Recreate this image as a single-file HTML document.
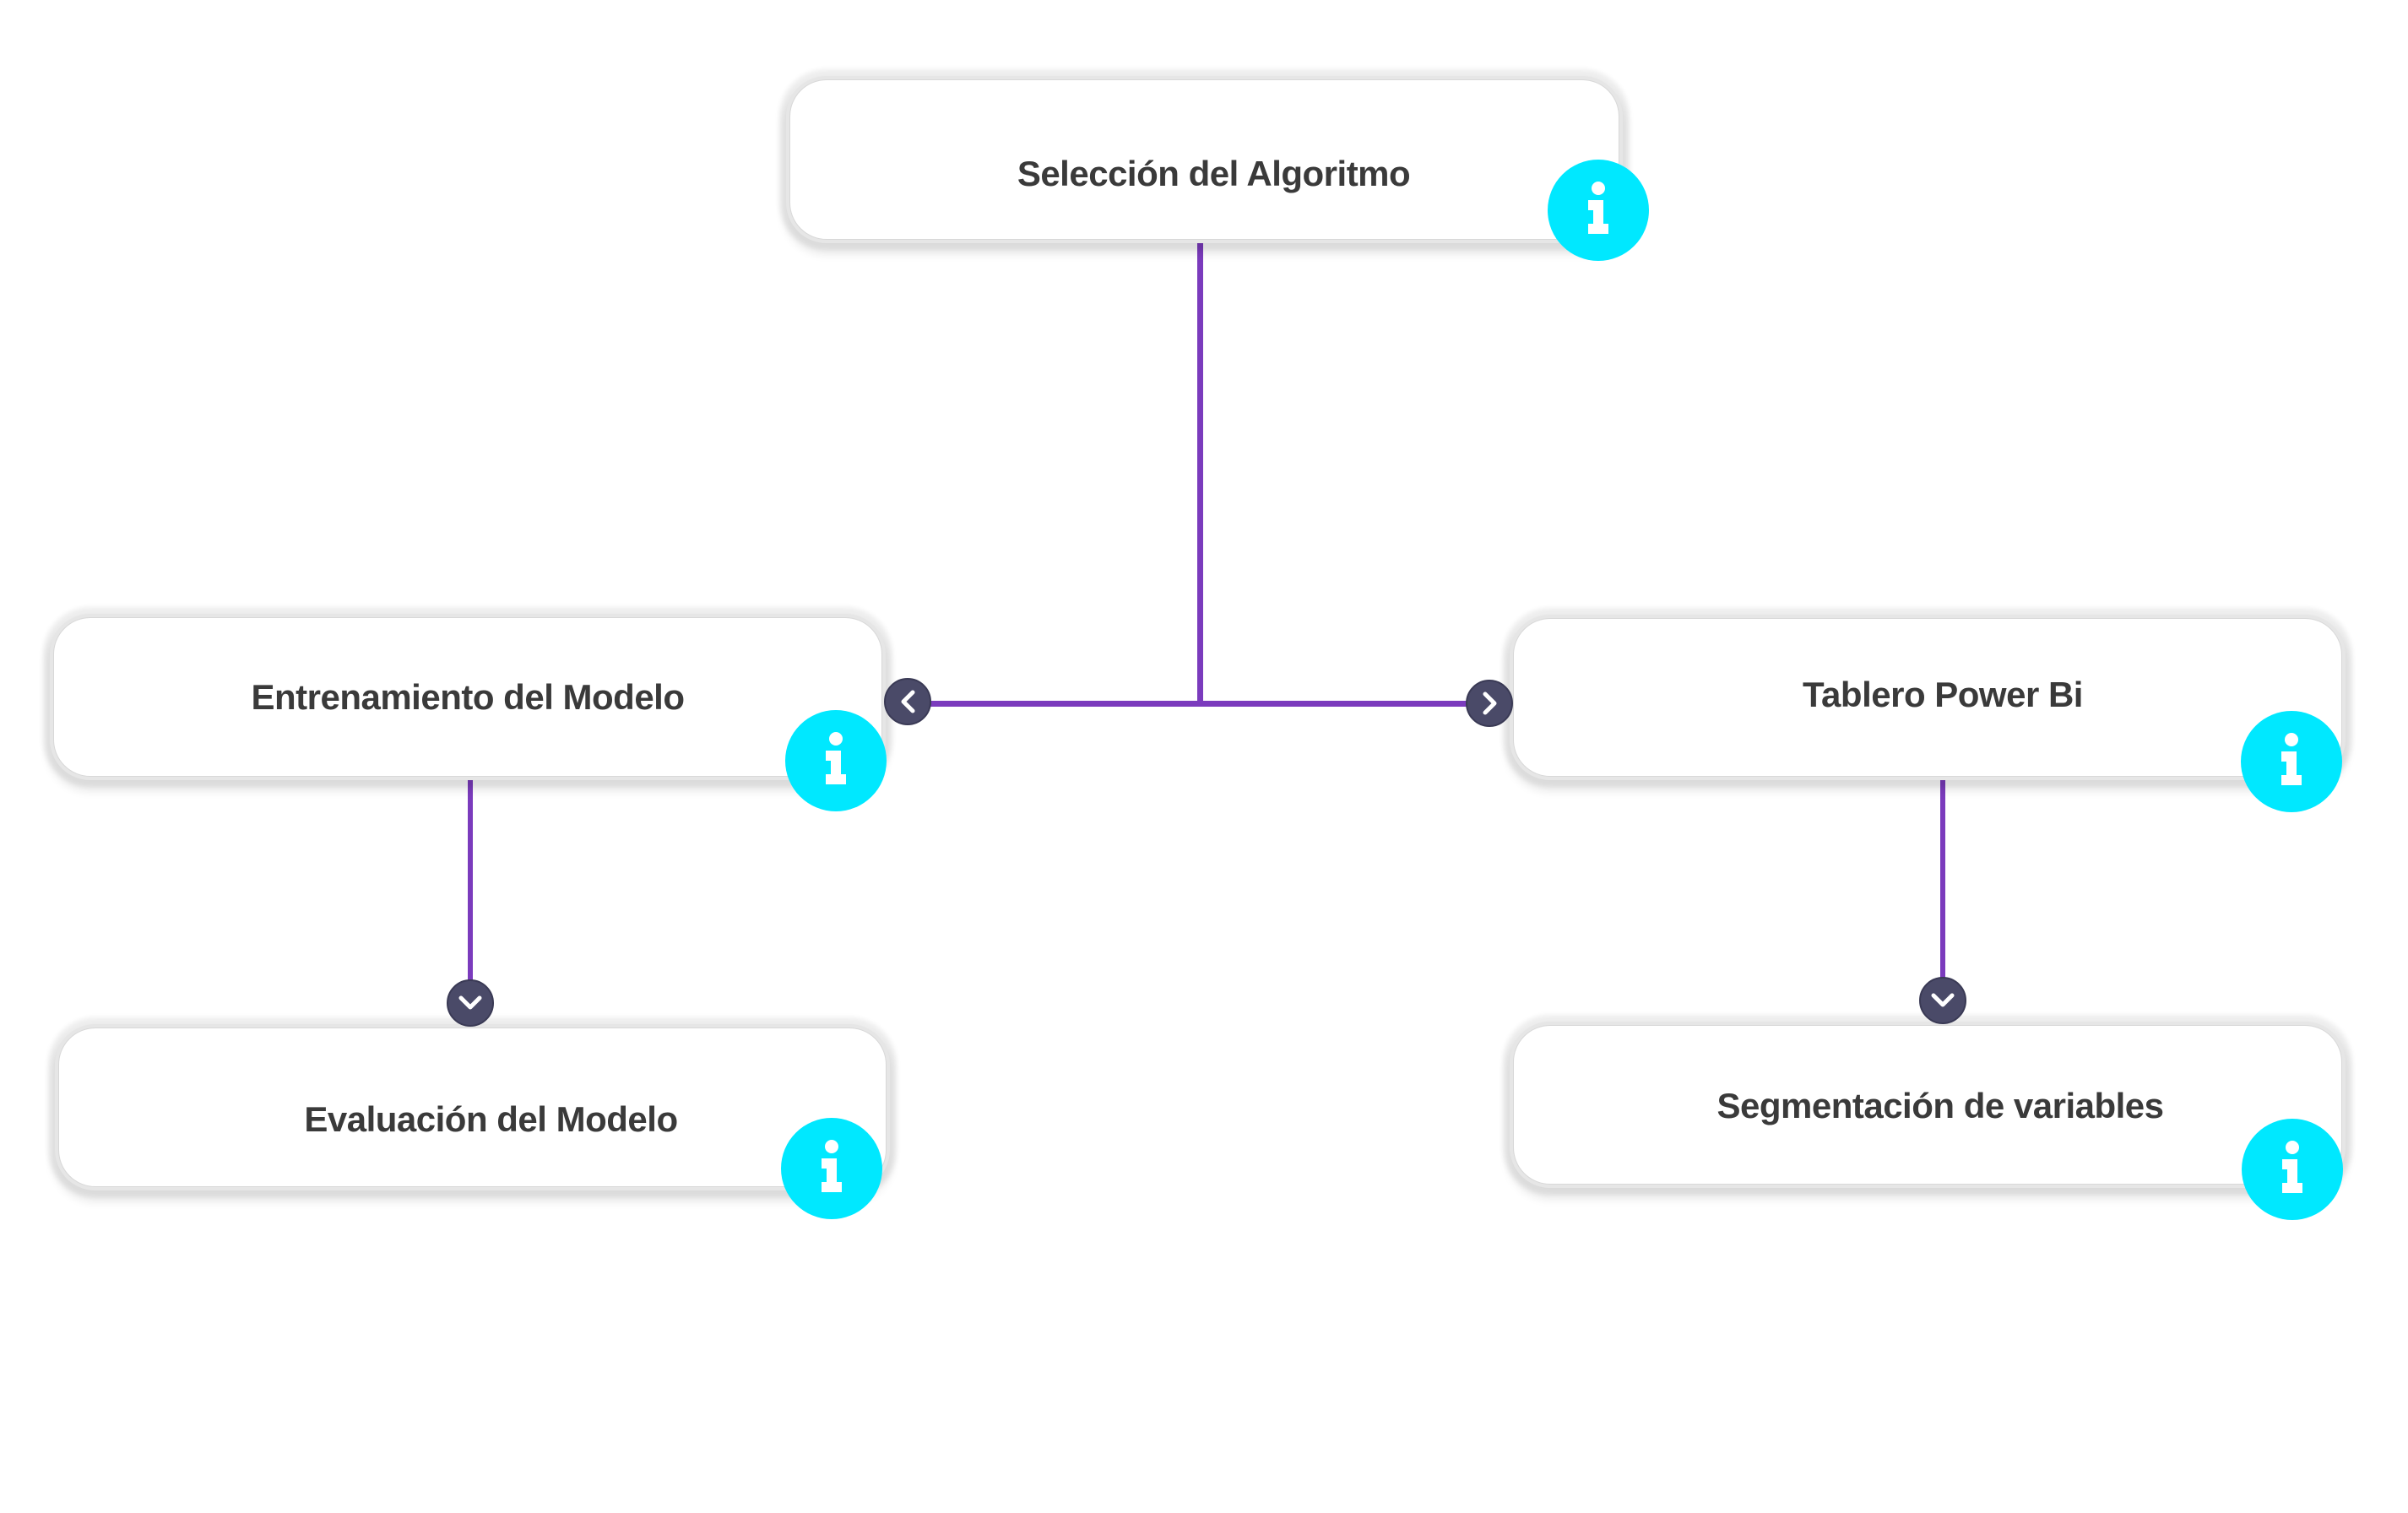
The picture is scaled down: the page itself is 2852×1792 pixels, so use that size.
<!DOCTYPE html>
<html><head><meta charset="utf-8"><style>
html,body{margin:0;padding:0;background:#fff;width:2852px;height:1792px;overflow:hidden;position:relative;font-family:"Liberation Sans",sans-serif}
.box{position:absolute;background:#fff;border-radius:44px;box-shadow:0 0 0 4px #e6e6e6,0 0 6px 12px rgba(0,0,0,0.07),0 10px 10px 8px rgba(0,0,0,0.08);border:1px solid #d8d8d8;box-sizing:border-box;display:flex;align-items:center;justify-content:center;font-weight:bold;font-size:42px;color:#3a3a3a;letter-spacing:-0.5px}
.info{position:absolute;width:120px;height:120px;border-radius:50%;background:#00e8ff}
.line{position:absolute;background:#7b3bbd}
.dot{position:absolute;width:56px;height:56px;border-radius:50%;background:#4a4a68;border:2px solid #3a3a55;box-sizing:border-box}
svg{position:absolute;left:0;top:0}
</style></head><body>
<div class="line" style="left:1418px;top:283px;width:7px;height:554px"></div>
<div class="line" style="left:1100px;top:830px;width:640px;height:7px"></div>
<div class="line" style="left:554px;top:920px;width:6px;height:245px"></div>
<div class="line" style="left:2298px;top:920px;width:6px;height:245px"></div>

<div class="box" style="left:935px;top:94px;width:983px;height:190px"><span style="margin-top:34px;margin-left:22px">Selección del Algoritmo</span></div>
<div class="box" style="left:63px;top:731px;width:982px;height:189px"><span style="margin-top:0px">Entrenamiento del Modelo</span></div>
<div class="box" style="left:69px;top:1217px;width:981px;height:189px"><span style="margin-top:28px;margin-left:44px">Evaluación del Modelo</span></div>
<div class="box" style="left:1792px;top:732px;width:982px;height:188px"><span style="margin-top:-6px;margin-left:36px">Tablero Power Bi</span></div>
<div class="box" style="left:1792px;top:1214px;width:982px;height:189px"><span style="margin-top:2px;margin-left:30px">Segmentación de variables</span></div>

<div class="dot" style="left:1047px;top:803px"></div>
<div class="dot" style="left:1736px;top:805px"></div>
<div class="dot" style="left:529px;top:1160px"></div>
<div class="dot" style="left:2273px;top:1157px"></div>

<div class="info" style="left:1833px;top:189px"></div>
<div class="info" style="left:930px;top:841px"></div>
<div class="info" style="left:925px;top:1324px"></div>
<div class="info" style="left:2654px;top:842px"></div>
<div class="info" style="left:2655px;top:1325px"></div>

<svg width="2852" height="1792" viewBox="0 0 2852 1792">
<defs>
<g id="i" fill="#fff">
<circle cx="0" cy="-26" r="8"/>
<path d="M-12,-12 H6 V16 H12 V28 H-12 V16 H-6 V0 H-12 Z"/>
</g>
</defs>
<use href="#i" x="1893" y="249"/>
<use href="#i" x="990" y="901"/>
<use href="#i" x="985" y="1384"/>
<use href="#i" x="2714" y="902"/>
<use href="#i" x="2715" y="1385"/>
<g fill="none" stroke="#fff" stroke-width="5" stroke-linecap="round" stroke-linejoin="round">
<path d="M1081,820 L1070,831 L1081,842"/>
<path d="M1759,822 L1770,833 L1759,844"/>
<path d="M546,1182 L557,1193 L568,1182"/>
<path d="M2290,1179 L2301,1190 L2312,1179"/>
</g>
</svg>
</body></html>
